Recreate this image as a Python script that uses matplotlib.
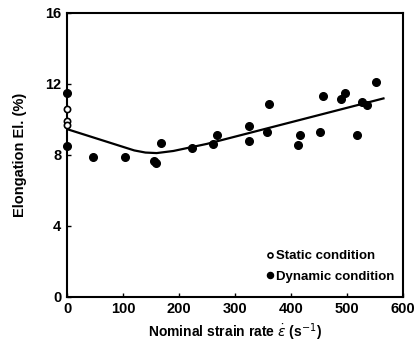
import numpy as np
import matplotlib.pyplot as plt

plt.rcParams['font.family'] = ['Liberation Sans', 'DejaVu Sans']
plt.rcParams['font.size'] = 10

# static tests (all at 0 strain rate)
static_x = [0, 0, 0]
static_y = [10.57, 9.93, 9.67]

# dynamic tests
dyn_x = [0, 0, 47, 104, 156, 159, 167, 223, 261, 268, 325, 325, 357, 361,
         416, 413, 452, 457, 489, 496, 517, 526, 535, 551]
dyn_y = [11.5, 8.5, 7.87, 7.87, 7.66, 7.53, 8.69, 8.39, 8.62, 9.14, 9.63, 8.77,
         9.26, 10.87, 9.14, 8.53, 9.3, 11.32, 11.17, 11.5, 9.1, 10.99, 10.8, 12.13]

# trend line
fit_x = [0, 60, 120, 140, 160, 190, 250, 565]
fit_y = [9.45, 8.85, 8.25, 8.13, 8.1, 8.22, 8.62, 11.18]

fig = plt.figure(figsize=(4.19, 3.48), dpi=100)
ax = fig.add_axes([0.160, 0.147, 0.802, 0.816])

ax.plot(fit_x, fit_y, color='black', lw=1.6, zorder=2)
ax.plot(dyn_x, dyn_y, 'o', color='black', ms=5.5, clip_on=False, zorder=3,
        label='Dynamic condition')
ax.plot(static_x, static_y, 'o', mfc='white', mec='black', mew=1.2, ms=4.5,
        clip_on=False, zorder=4, label='Static condition')

ax.set_xlim(0, 600)
ax.set_ylim(0, 16)
ax.set_xticks(np.arange(0, 601, 100))
ax.set_yticks([0, 4, 8, 12, 16])
ax.tick_params(direction='in', length=3, width=1, pad=4, labelsize=10.5)
for lab in ax.get_xticklabels() + ax.get_yticklabels():
    lab.set_fontweight('bold')
for s in ax.spines.values():
    s.set_linewidth(1.5)

ax.set_xlabel('Nominal strain rate $\\dot{\\varepsilon}$ (s$^{-1}$)', fontsize=10,
              fontweight='bold', labelpad=4)
ax.set_ylabel('Elongation El. (%)', fontsize=10.5, fontweight='bold', labelpad=13)

h, l = ax.get_legend_handles_labels()
leg = ax.legend(h[::-1], l[::-1], loc='lower right', frameon=False,
                bbox_to_anchor=(0.975, 0.05), borderaxespad=0, borderpad=0,
                handletextpad=0.1, handlelength=0.8,
                labelspacing=0.6, markerscale=0.8,
                prop={'weight': 'bold', 'size': 9.5})

fig.savefig('out.png', dpi=100)
